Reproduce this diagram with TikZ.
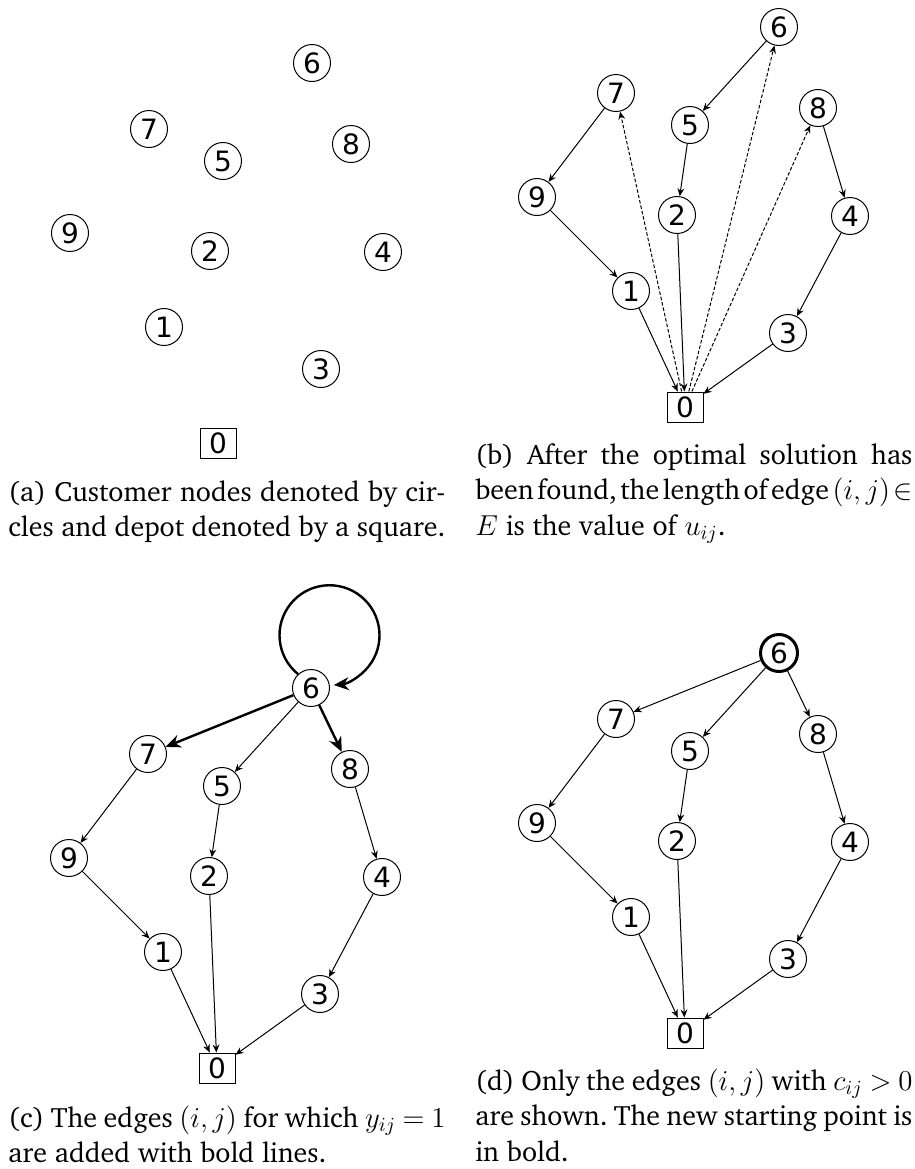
\documentclass[tikz,border=0pt]{standalone}
\usepackage{fontspec}
\newfontfamily\digitfont{DejaVu Sans}
\usepackage[T1]{fontenc}
\usepackage{charter}
\usepackage{tikz}
\usetikzlibrary{arrows.meta}

\newcommand{\digits}{\fontencoding{TU}\digitfont\fontsize{14pt}{14pt}\selectfont}
\newcommand{\captionfont}{\fontsize{14pt}{17.75pt}\selectfont\frenchspacing\tolerance=2000
  \spaceskip=\fontdimen2\font plus \fontdimen3\font minus .2em
  \thickmuskip=5mu plus 3mu minus 4mu}

% customers 1..9 and the depot 0, names get the panel letter in front
\newcommand{\placeCustomers}[2][]{%
  \node[customer,#1] (#2-6) at (312,-63) {6};
  \node[customer] (#2-7) at (149,-129) {7};
  \node[customer] (#2-8) at (351,-144) {8};
  \node[customer] (#2-5) at (223,-161) {5};
  \node[customer] (#2-9) at (70,-233) {9};
  \node[customer] (#2-2) at (210,-251) {2};
  \node[customer] (#2-4) at (383,-252) {4};
  \node[customer] (#2-1) at (164,-327) {1};
  \node[customer] (#2-3) at (321,-369) {3};
  \node[depot] (#2-0) at (218,-443) {0};
}

% the three routes back to the depot
\newcommand{\drawRoutes}[1]{%
  \draw[link] (#1-6) -- (#1-5);
  \draw[link] (#1-5) -- (#1-2);
  \draw[link] (#1-2) -- (#1-0);
  \draw[link] (#1-7) -- (#1-9);
  \draw[link] (#1-9) -- (#1-1);
  \draw[link] (#1-1) -- (#1-0);
  \draw[link] (#1-8) -- (#1-4);
  \draw[link] (#1-4) -- (#1-3);
  \draw[link] (#1-3) -- (#1-0);
}

\begin{document}
\begin{tikzpicture}[x=0.5pt,y=0.5pt,
    customer/.style={circle,draw,line width=0.5pt,minimum size=18.5pt,inner sep=0pt,font=\digits},
    depot/.style={rectangle,draw,line width=0.5pt,minimum width=18pt,minimum height=15pt,inner sep=0pt,font=\digits},
    link/.style={-{Stealth[length=4pt,width=3.4pt]},line width=0.5pt},
    boldlink/.style={-{Stealth[length=7.5pt,width=6.5pt]},line width=1.2pt},
    duallink/.style={link,dash pattern=on 1.75pt off 1pt},
    subcaption/.style={anchor=base west,inner sep=0pt,text width=218.5pt,align=justify,
      font=\captionfont}]
  \useasboundingbox (0,0) rectangle (915,-1169);

  % (a) only the points
  \placeCustomers{a}
  \node[subcaption] (capA) at (8,-501)
    {(a) Customer nodes denoted by cir-\linebreak cles and depot denoted by a square.};

  % (b) routes and the dashed returns
  \begin{scope}[shift={(467,36)}]
    \placeCustomers{b}
    \drawRoutes{b}
    \draw[duallink] (b-0) -- (b-7);
    \draw[duallink] (b-0) -- (b-6);
    \draw[duallink] (b-0) -- (b-8);
  \end{scope}
  \node[subcaption] (capB) at (475,-464)
    {(b) After the optimal solution has\linebreak been found, the length of edge $(i,j)\in$\linebreak $E$ is the value of $u_{ij}$.};

  % (c) bold edges out of 6
  \begin{scope}[shift={(-1,-625)}]
    \placeCustomers{c}
    \drawRoutes{c}
    \draw[boldlink] (c-6) -- (c-7);
    \draw[boldlink] (c-6) -- (c-8);
    \draw[boldlink] (c-6.133) arc[start angle=231,end angle=-85,radius=50];
  \end{scope}
  \node[subcaption] (capC) at (8,-1127)
    {(c) The edges $(i,j)$ for which $y_{ij}=1$\linebreak are added with bold lines.};

  % (d) new start in bold
  \begin{scope}[shift={(467,-590)}]
    \placeCustomers[line width=1.5pt]{d}
    \drawRoutes{d}
    \draw[link] (d-6) -- (d-7);
    \draw[link] (d-6) -- (d-8);
  \end{scope}
  \node[subcaption] (capD) at (475,-1090)
    {(d) Only the edges $(i,j)$ with $c_{ij}>0$\linebreak are shown. The new starting point is\linebreak in bold.};
\end{tikzpicture}
\end{document}
